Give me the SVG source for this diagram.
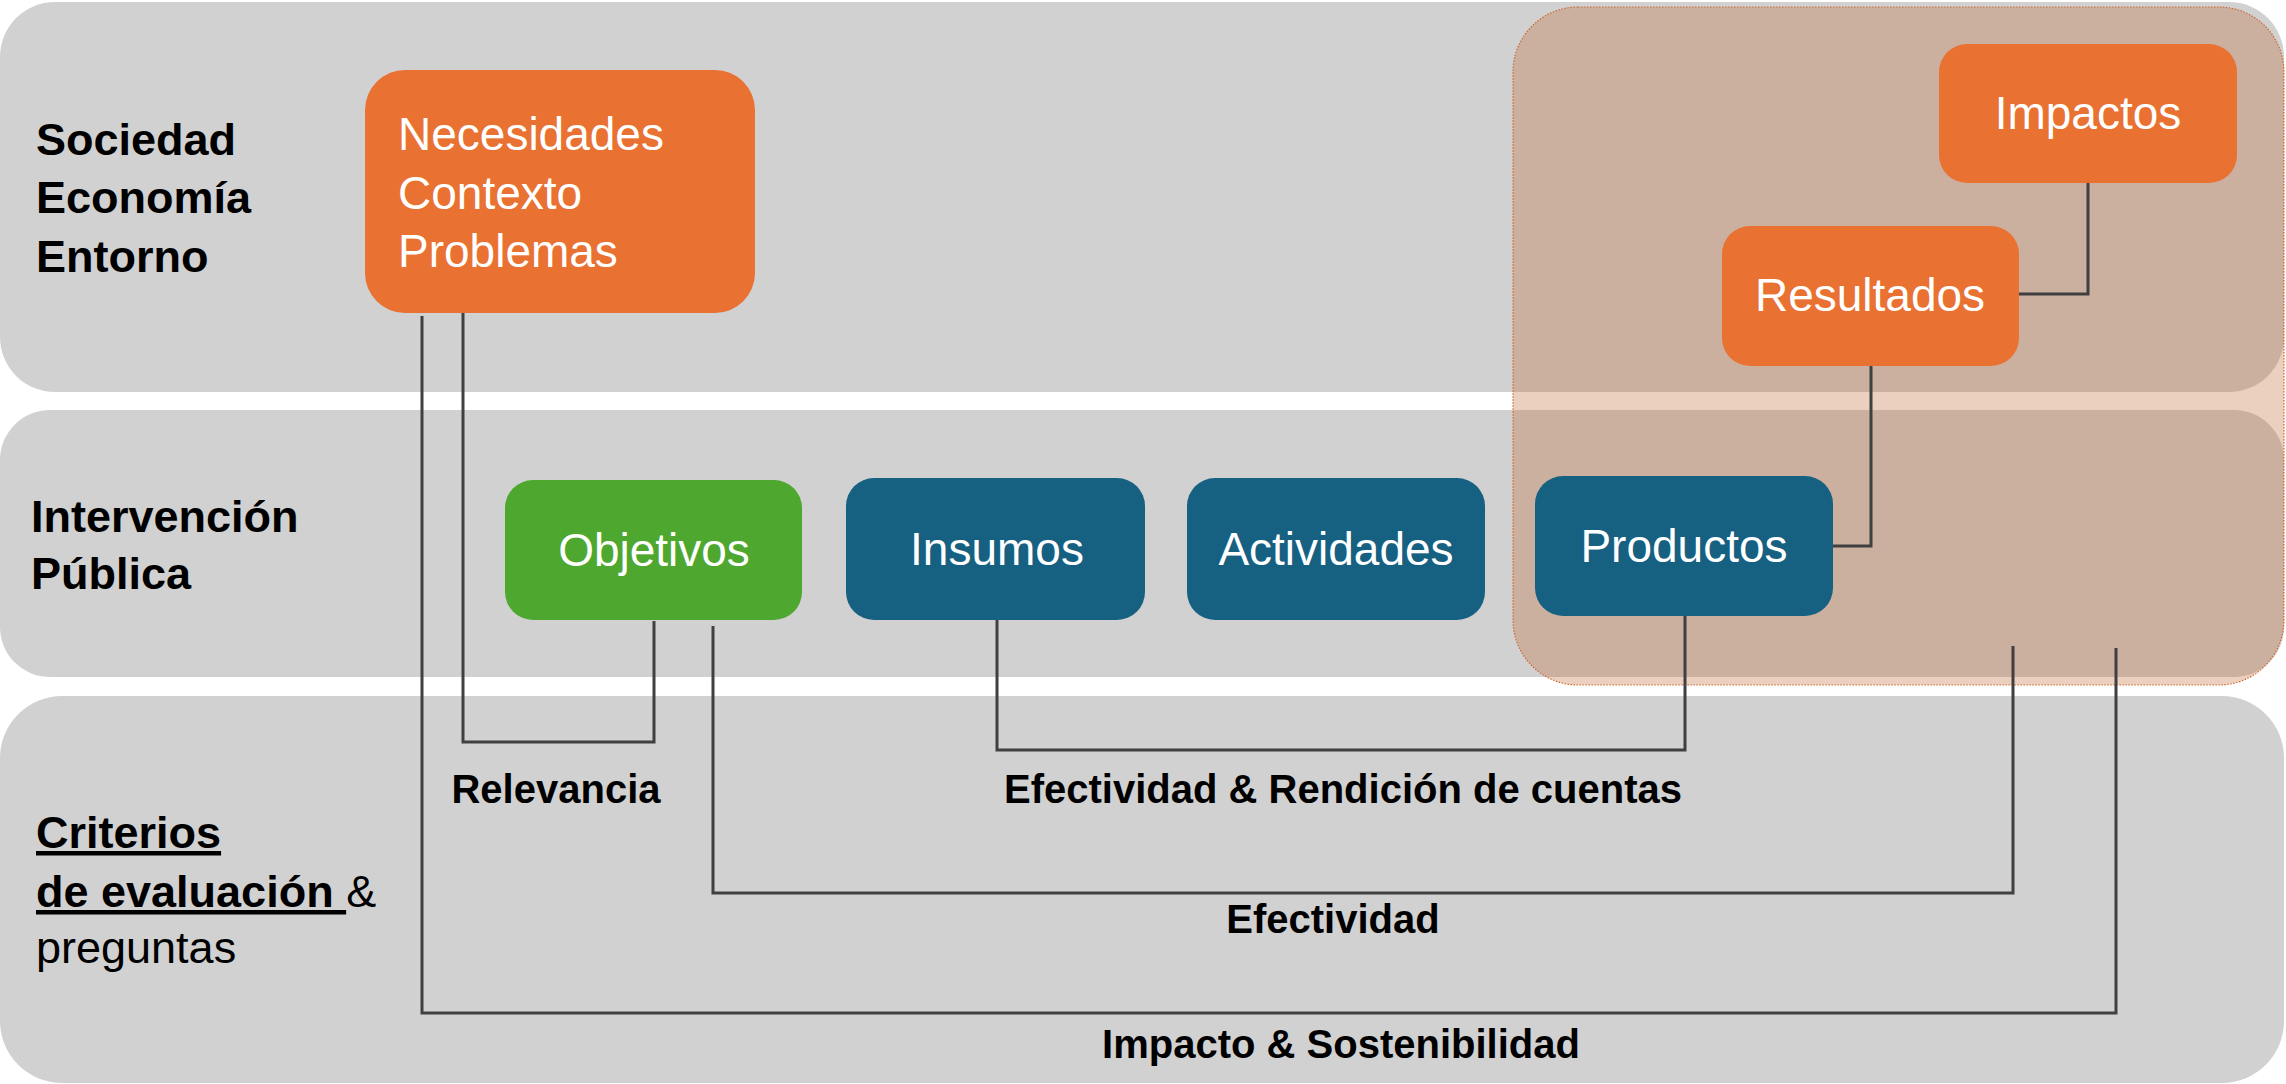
<svg xmlns="http://www.w3.org/2000/svg" width="2286" height="1084" viewBox="0 0 2286 1084">
  <style>
    .band { fill: #D1D1D1; }
    .hdr { font-family: "Liberation Sans", Arial, sans-serif; font-size: 45px; font-weight: bold; fill: #000; }
    .hdr-r { font-family: "Liberation Sans", Arial, sans-serif; font-size: 45px; font-weight: normal; fill: #000; }
    .nt { font-family: "Liberation Sans", Arial, sans-serif; font-size: 46px; fill: #FFFFFF; }
    .crit { font-family: "Liberation Sans", Arial, sans-serif; font-size: 40px; font-weight: bold; fill: #000; text-anchor: middle; }
    .orange { fill: #E97132; }
    .blue { fill: #166082; }
    .green { fill: #4EA72E; }
    .conn { fill: none; stroke: #404040; stroke-width: 3; }
  </style>

  <g id="bands">
    <rect id="band-sociedad" class="band" x="0" y="2" width="2284" height="390" rx="55" ry="55"/>
    <rect id="band-intervencion" class="band" x="0" y="410" width="2284" height="267" rx="50" ry="50"/>
    <rect id="band-criterios" class="band" x="0" y="696" width="2284" height="387" rx="62" ry="62"/>
  </g>

  <g id="band-labels">
    <text class="hdr" x="36" y="155">Sociedad</text>
    <text class="hdr" x="36" y="213">Economía</text>
    <text class="hdr" x="36" y="272">Entorno</text>
    <text class="hdr" x="31" y="532">Intervención</text>
    <text class="hdr" x="31" y="589">Pública</text>
    <text class="hdr" x="36" y="848"><tspan text-decoration="underline">Criterios</tspan></text>
    <text class="hdr" x="36" y="907"><tspan text-decoration="underline">de evaluación&#160;</tspan><tspan class="hdr-r" font-weight="normal">&amp;</tspan></text>
    <text class="hdr-r" x="36" y="963">preguntas</text>
  </g>

  <g id="overlay">
    <rect x="1513" y="7" width="771" height="678" rx="65" ry="65" fill="#BC5F2A" fill-opacity="0.3" stroke="#D0682E" stroke-width="1.2" stroke-dasharray="1.5 1.5"/>
  </g>

  <g id="connectors">
    <polyline class="conn" points="2088,183 2088,294 2019,294"/>
    <polyline class="conn" points="1871,366 1871,546 1833,546"/>
    <polyline class="conn" points="463,313 463,742 654,742 654,621"/>
    <polyline class="conn" points="713,626 713,893 2013,893 2013,646"/>
    <polyline class="conn" points="422,316 422,1013 2116,1013 2116,648"/>
    <polyline class="conn" points="997,620 997,750 1685,750 1685,616"/>
  </g>

  <g id="necesidades">
    <rect class="orange" x="365" y="70" width="390" height="243" rx="40" ry="40"/>
    <text class="nt" x="398" y="150">Necesidades</text>
    <text class="nt" x="398" y="209">Contexto</text>
    <text class="nt" x="398" y="267">Problemas</text>
  </g>

  <g id="impactos">
    <rect class="orange" x="1939" y="44" width="298" height="139" rx="28" ry="28"/>
    <text class="nt" x="2088" y="129" text-anchor="middle">Impactos</text>
  </g>

  <g id="resultados">
    <rect class="orange" x="1722" y="226" width="297" height="140" rx="28" ry="28"/>
    <text class="nt" x="1870" y="311" text-anchor="middle">Resultados</text>
  </g>

  <g id="objetivos">
    <rect class="green" x="505" y="480" width="297" height="140" rx="28" ry="28"/>
    <text class="nt" x="654" y="566" text-anchor="middle">Objetivos</text>
  </g>

  <g id="insumos">
    <rect class="blue" x="846" y="478" width="299" height="142" rx="28" ry="28"/>
    <text class="nt" x="997" y="565" text-anchor="middle">Insumos</text>
  </g>

  <g id="actividades">
    <rect class="blue" x="1187" y="478" width="298" height="142" rx="28" ry="28"/>
    <text class="nt" x="1336" y="565" text-anchor="middle">Actividades</text>
  </g>

  <g id="productos">
    <rect class="blue" x="1535" y="476" width="298" height="140" rx="28" ry="28"/>
    <text class="nt" x="1684" y="562" text-anchor="middle">Productos</text>
  </g>

  <g id="criteria-labels">
    <text class="crit" x="556" y="803">Relevancia</text>
    <text class="crit" x="1343" y="803">Efectividad &amp; Rendición de cuentas</text>
    <text class="crit" x="1333" y="933">Efectividad</text>
    <text class="crit" x="1341" y="1058">Impacto &amp; Sostenibilidad</text>
  </g>
</svg>
